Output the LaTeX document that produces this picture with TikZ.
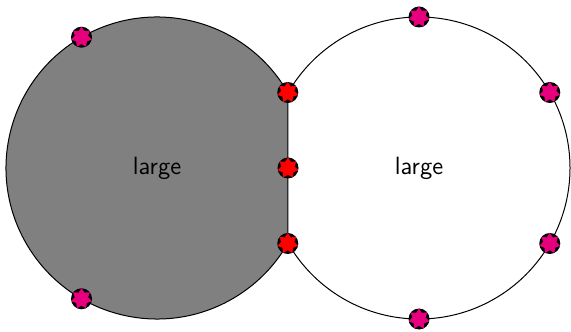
\documentclass[tikz,border=0pt]{standalone}
\definecolor{dotpink}{RGB}{230,0,126}
\tikzset{
 big/.style={circle, minimum size=151pt, inner sep=0pt, outer sep=0pt, font=\sffamily\fontsize{12.5}{15}\selectfont},
 mdot/.style={circle, fill=black, minimum size=10.5pt, inner sep=0pt, outer sep=0pt,
   path picture={\fill[#1, shift={(path picture bounding box.center)}] (90:5.3pt)
     \foreach \i [evaluate=\i as \rr using {isodd(\i)?3.4:5.3}] in {1,...,13} {-- ({90+\i*180/7}:\rr pt)} -- cycle;}},
 outline/.style={line width=0.5pt},
}
\begin{document}
\begin{tikzpicture}[x=0.5pt,y=0.5pt]
\useasboundingbox (0,0) rectangle (571,331);
\node[big, draw, outline, fill=white] (R) at (419,163) {large};
\filldraw[fill=gray, draw=black, outline] (157,163) ++(30:75.5pt) arc[start angle=30, end angle=330, radius=75.5pt] -- cycle;
\node[big] (L) at (157,163) {large};
\node[mdot=dotpink] (p1) at (L.120) {};
\node[mdot=dotpink] (p2) at (L.240) {};
\node[mdot=dotpink] (p3) at (R.90) {};
\node[mdot=dotpink] (p4) at (R.30) {};
\node[mdot=dotpink] (p5) at (R.-30) {};
\node[mdot=dotpink] (p6) at (R.270) {};
\node[mdot=red] (r1) at (L.30) {};
\node[mdot=red] (r2) at (288,163) {};
\node[mdot=red] (r3) at (L.-30) {};
\end{tikzpicture}
\end{document}
